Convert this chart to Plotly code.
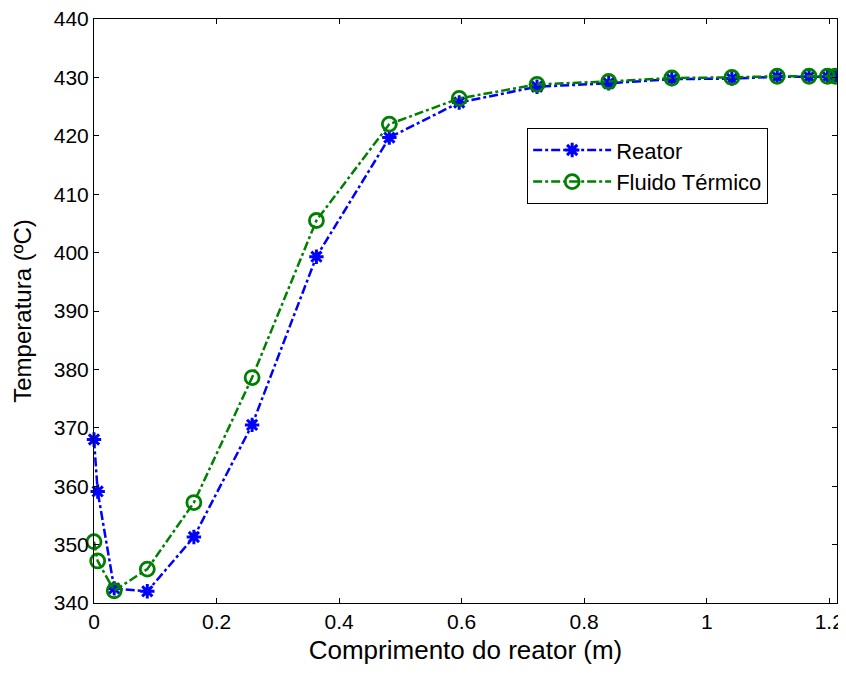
import plotly.graph_objects as go

comprimento = [0, 0.006, 0.033, 0.087, 0.163, 0.258, 0.363, 0.482, 0.596, 0.723,
               0.840, 0.943, 1.041, 1.115, 1.167, 1.197, 1.21]
reator = [368.0, 359.1, 342.5, 342.0, 351.3, 370.5, 399.3, 419.7, 425.7, 428.4,
          429.0, 429.7, 429.8, 430.1, 430.1, 430.1, 430.1]
fluido = [350.5, 347.2, 342.1, 345.8, 357.2, 378.6, 405.5, 422.0, 426.4, 428.8,
          429.3, 429.9, 430.0, 430.2, 430.2, 430.2, 430.2]

x_ticks = [0, 0.2, 0.4, 0.6, 0.8, 1, 1.2]
x_ticklabels = ["0", "0.2", "0.4", "0.6", "0.8", "1", "1.2"]
y_ticks = list(range(340, 441, 10))

fig = go.Figure()
fig.add_trace(go.Scatter(
    x=comprimento, y=reator, name="Reator", mode="lines+markers",
    line=dict(color="#0000ff", width=2.5, dash="dashdot"),
    marker=dict(symbol="asterisk-open", size=12, color="#0000ff",
                line=dict(color="#0000ff", width=3)),
    cliponaxis=False,
))
fig.add_trace(go.Scatter(
    x=comprimento, y=fluido, name="Fluido Térmico", mode="lines+markers",
    line=dict(color="#008000", width=2.5, dash="dashdot"),
    marker=dict(symbol="circle-open", size=14, color="#008000",
                line=dict(color="#008000", width=2.8)),
    cliponaxis=False,
))

font_family = "Liberation Sans, Arial, sans-serif"
fig.update_layout(
    width=838, height=657,
    margin=dict(l=86, r=9, t=11, b=62),
    paper_bgcolor="white", plot_bgcolor="white",
    font=dict(family=font_family, color="black", size=21),
    showlegend=True,
    legend=dict(
        x=0.583, y=0.813, xanchor="left", yanchor="top",
        bgcolor="white", bordercolor="black", borderwidth=1,
        font=dict(size=22, family=font_family),
        itemwidth=78,
        tracegroupgap=0,
    ),
    xaxis=dict(
        range=[0, 1.2126], tickvals=x_ticks, ticktext=x_ticklabels,
        showline=True, linecolor="black", linewidth=1, mirror="ticks",
        ticks="inside", ticklen=5, tickcolor="black",
        showgrid=False, zeroline=False, automargin=False,
        tickfont=dict(size=21), ticklabeloverflow="allow",
        title=dict(text="Comprimento do reator (m)", font=dict(size=26)),
    ),
    yaxis=dict(
        range=[340, 440], tickvals=y_ticks,
        showline=True, linecolor="black", linewidth=1, mirror="ticks",
        ticks="inside", ticklen=5, tickcolor="black",
        showgrid=False, zeroline=False, automargin=False,
        tickfont=dict(size=21), ticklabeloverflow="allow",
        title=dict(text="Temperatura (ºC)", font=dict(size=24), standoff=15),
    ),
)

fig.write_html("out.html")
